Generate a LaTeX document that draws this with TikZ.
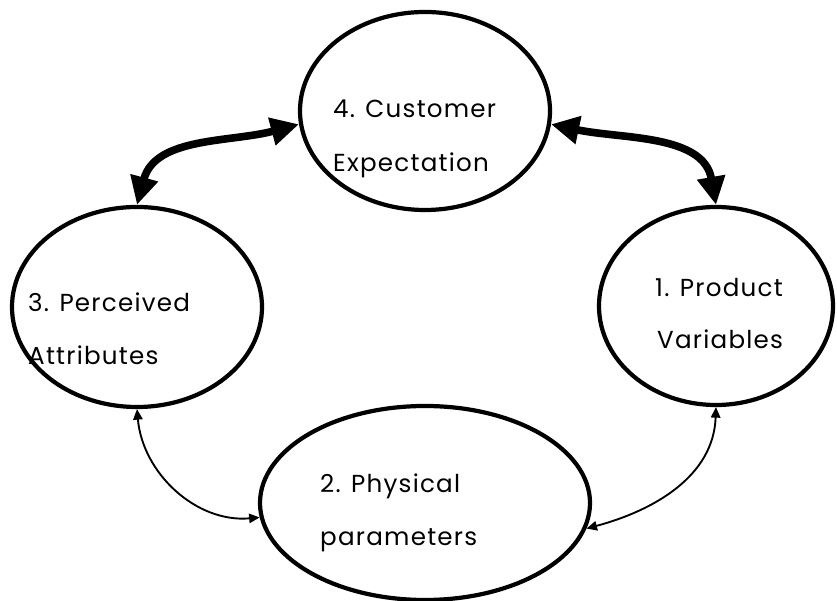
\documentclass[tikz,border=0pt]{standalone}
\usepackage{fontspec}
\setmainfont{Poppins}[LetterSpace=5]
\usetikzlibrary{arrows.meta,shapes.geometric}

\tikzset{
  stage/.style={draw,ellipse,line width=3.6pt,inner sep=0pt},
  lbl/.style={anchor=base west,inner sep=0pt,font=\fontsize{21}{24}\selectfont},
  bigarr/.style={{Triangle[length=24pt,width=23pt]}-{Triangle[length=24pt,width=23pt]},line width=6.5pt},
  smallarr/.style={{Triangle[length=9pt,width=8pt]}-{Triangle[length=9pt,width=8pt]},line width=1.6pt},
}

\begin{document}
\begin{tikzpicture}[x=0.03cm,y=0.03cm]
\useasboundingbox (0,0) rectangle (837,601);

% the four stages
\node[stage,minimum width=7.5cm,minimum height=5.94cm] (expect) at (425,490) {};
\node[stage,minimum width=7.5cm,minimum height=6cm] (attrib) at (137,294) {};
\node[stage,minimum width=7.02cm,minimum height=5.94cm] (prodvar) at (716,295) {};
\node[stage,minimum width=9.9cm,minimum height=5.82cm] (phys) at (425,98) {};

% labels
\node[lbl] (expect1) at (333,483) {4. Customer};
\node[lbl] (expect2) at (333,429) {Expectation};
\node[lbl] (attrib1) at (28,289) {3. Perceived};
\node[lbl] (attrib2) at (28,236) {Attributes};
\node[lbl] (prodvar1) at (655,304) {1. Product};
\node[lbl] (prodvar2) at (657,252) {Variables};
\node[lbl] (phys1) at (320,108) {2. Physical};
\node[lbl] (phys2) at (320,55) {parameters};

% links
\draw[bigarr] (attrib.north) to[out=75,in=195] (expect.186);
\draw[bigarr] (expect.354) to[out=-12,in=100] (prodvar.north);
\draw[smallarr] (attrib.south) to[out=-85,in=185] (phys.185);
\draw[smallarr] (prodvar.south) to[out=-92,in=15] (phys.-9);
\end{tikzpicture}
\end{document}
